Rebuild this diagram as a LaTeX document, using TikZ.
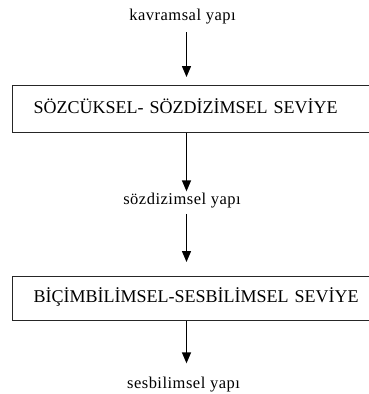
\documentclass[tikz,border=0pt]{standalone}
\usepackage{fontspec}
\setmainfont{Liberation Serif}
\newfontfamily\labelfont[LetterSpace=3]{Liberation Serif}
\usetikzlibrary{arrows.meta}

\tikzset{
  flowlabel/.style={font=\labelfont\fontsize{16.5}{19}\selectfont, inner sep=0pt, anchor=base},
  levelbox/.style={draw=black!85, line width=1.3pt, anchor=north west,
    font=\fontsize{18}{21}\selectfont, inner xsep=21pt, inner ysep=0pt,
    text width=336pt, align=left, text height=12.4pt, text depth=4pt},
  flowarrow/.style={line width=1.4pt, -{Triangle[width=9pt,length=11pt]}},
}

\begin{document}
\begin{tikzpicture}[x=1pt, y=-1pt]
  \useasboundingbox (0,0) rectangle (369,394);
  \coordinate (axis) at (186.5,0);

  % levels and intermediate structures, top to bottom
  \node[flowlabel] (kav) at (182.5,20.7) {kavramsal yapı};
  \node[levelbox, minimum height=47pt] (lex) at (12,85) {SÖZCÜKSEL- SÖZDİZİMSEL SEVİYE};
  \node[flowlabel] (syn) at (182,204) {sözdizimsel yapı};
  \node[levelbox, minimum height=44pt] (morph) at (12,276) {BİÇİMBİLİMSEL-SESBİLİMSEL SEVİYE};
  \node[flowlabel] (phon) at (183.5,388) {sesbilimsel yapı};

  % downward flow
  \draw[flowarrow, shorten <=8pt, shorten >=8pt] (kav.south -| axis) -- (lex.north -| axis);
  \draw[flowarrow, shorten >=1pt] (lex.south -| axis) -- (syn.north -| axis);
  \draw[flowarrow, shorten <=6pt, shorten >=14pt] (syn.south -| axis) -- (morph.north -| axis);
  \draw[flowarrow, shorten >=13pt] (morph.south -| axis) -- (phon.north -| axis);
\end{tikzpicture}
\end{document}
